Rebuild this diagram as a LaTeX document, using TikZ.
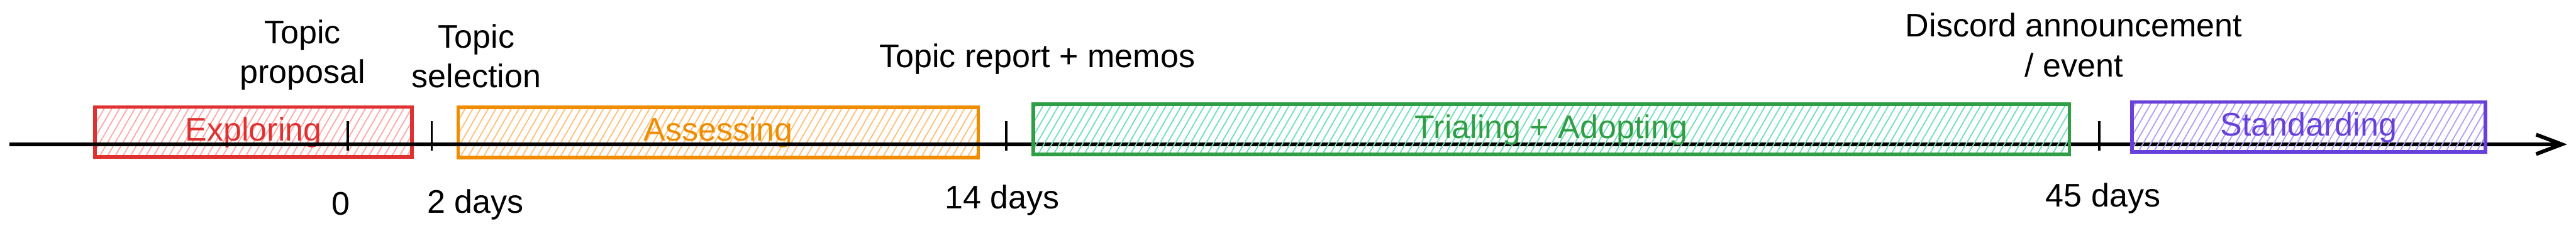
\documentclass[tikz,border=0pt]{standalone}
\usepackage{fontspec}
\setmainfont{Liberation Sans}
\usepackage{xcolor}
\usetikzlibrary{arrows.meta,positioning,patterns.meta}
\definecolor{redline}{HTML}{E03131}
\definecolor{redfill}{HTML}{FFA8A8}
\definecolor{orangeline}{HTML}{F08C00}
\definecolor{orangefill}{HTML}{FFC078}
\definecolor{greenline}{HTML}{2F9E44}
\definecolor{greenfill}{HTML}{70E0BC}
\definecolor{violetline}{HTML}{6741D9}
\definecolor{violetfill}{HTML}{B0A0F6}
\tikzset{
  phasebox/.style={
    rectangle, draw=#1line, line width=0.8mm,
    pattern={Lines[angle=60,distance=1.5mm,line width=0.75pt]}, pattern color=#1fill,
    text=#1line, minimum height=1.13cm, inner sep=0pt,
    text height=5.5mm, text depth=1.5mm,
    font=\fontsize{21}{25.6}\selectfont
  },
  phasebox/.default=red,
  notetext/.style={font=\fontsize{21}{25.6}\selectfont, align=center, inner sep=0pt},
  tickline/.style={line width=0.5mm},
  axisline/.style={line width=0.85mm, -{Straight Barb[length=5.8mm,width=4.4mm,line width=0.85mm]}}
}

\begin{document}
\begin{tikzpicture}
\useasboundingbox (0,0) rectangle (58.07,5.32);

\node[phasebox=red, minimum width=7.15cm] (explore) at (5.715,2.34) {Exploring};
\node[phasebox=orange, minimum width=11.72cm] (assess) at (16.19,2.33) {Assessing};

\coordinate (ax0) at (0.21,2.06);
\coordinate (ax1) at (57.87,2.06);
\draw[axisline] (ax0) -- (ax1);

\node[phasebox=green, minimum width=23.36cm] (trial) at (34.97,2.40) {Trialing + Adopting};
\node[phasebox=violet, minimum width=7.97cm] (standard) at (52.045,2.45) {Standarding};

\coordinate (t0) at (7.84,2.06);
\coordinate (t2) at (9.73,2.06);
\coordinate (t14) at (22.68,2.06);
\coordinate (t45) at (47.32,2.06);
\foreach \t in {t0,t2,t14,t45}
  \draw[tickline] ([yshift=-1.4mm]\t) -- ([yshift=5.3mm]\t);

\node[notetext] (proposal) at (6.82,4.08) {Topic\\proposal};
\node[notetext] (selection) at (10.74,4.05) {Topic\\selection};
\node[notetext, anchor=base] (report) at (23.38,3.79) {Topic report + memos};
\node[notetext] (discord) at (46.75,4.30) {Discord announcement\\/ event};

\node[notetext, anchor=base] (day0) at (7.69,0.47) {0};
\node[notetext, anchor=base] (day2) at (10.72,0.50) {2 days};
\node[notetext, anchor=base] (day14) at (22.59,0.60) {14 days};
\node[notetext, anchor=base] (day45) at (47.41,0.65) {45 days};
\end{tikzpicture}
\end{document}
